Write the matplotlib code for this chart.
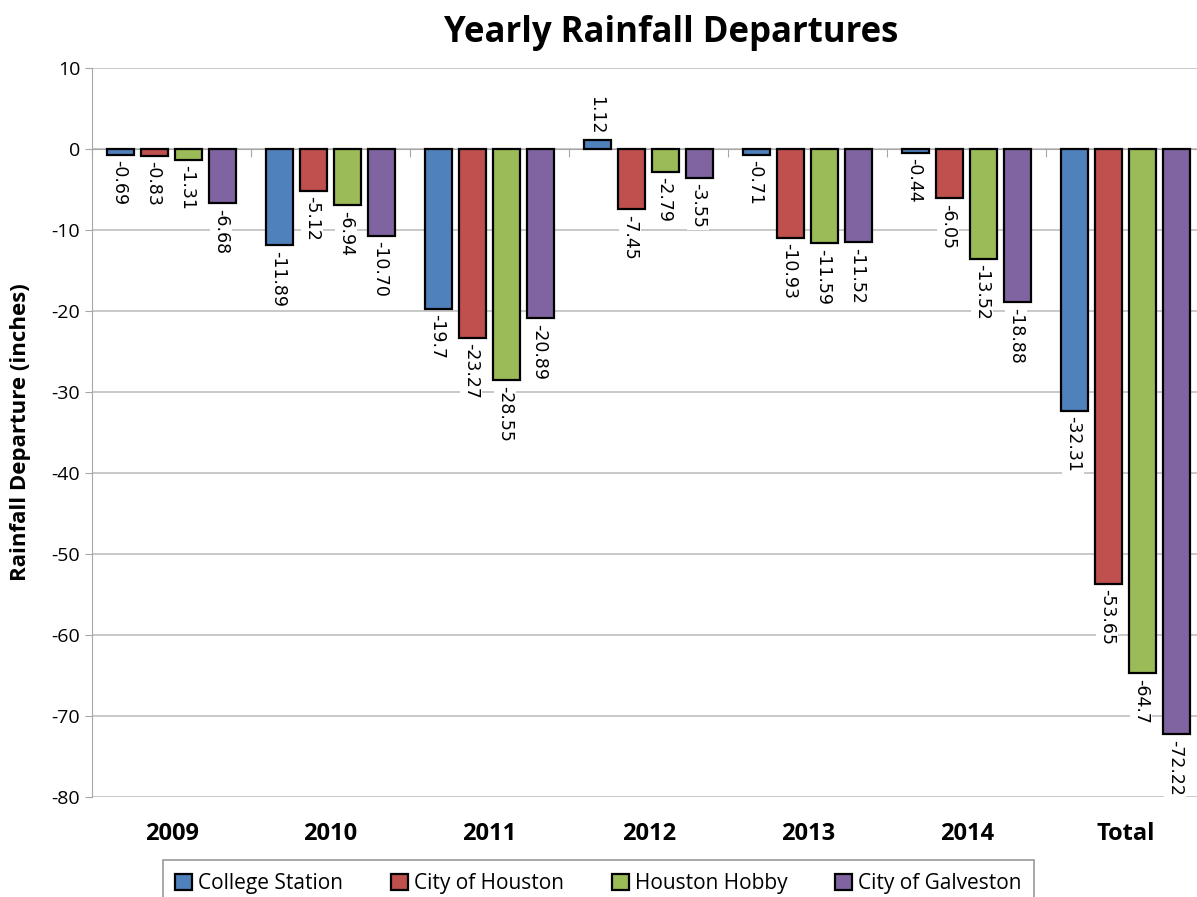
import numpy as np
import matplotlib
matplotlib.use("Agg")
import matplotlib.pyplot as plt
from matplotlib.transforms import blended_transform_factory

# data, kept as text so the labels read like the source ("-10.70", "-19.7")
categories = ["2009", "2010", "2011", "2012", "2013", "2014", "Total"]
college_station = ["-0.69", "-11.89", "-19.7", "1.12", "-0.71", "-0.44", "-32.31"]
city_of_houston = ["-0.83", "-5.12", "-23.27", "-7.45", "-10.93", "-6.05", "-53.65"]
houston_hobby = ["-1.31", "-6.94", "-28.55", "-2.79", "-11.59", "-13.52", "-64.7"]
city_of_galveston = ["-6.68", "-10.70", "-20.89", "-3.55", "-11.52", "-18.88", "-72.22"]

series_names = ["College Station", "City of Houston", "Houston Hobby", "City of Galveston"]
colors = ["#4F81BD", "#C0504D", "#9BBB59", "#8064A2"]

plt.rcParams['font.family'] = ['Open Sans', 'DejaVu Sans']
plt.rcParams['axes.unicode_minus'] = False

fig = plt.figure(figsize=(11.97, 8.97), dpi=100)
ax = fig.add_axes([0.0769, 0.1115, 0.93, 0.8125])

x = np.arange(len(categories))
width = 0.17
step = 0.214
all_series = [college_station, city_of_houston, houston_hobby, city_of_galveston]

for i, (name, vals, col) in enumerate(zip(series_names, all_series, colors)):
    nums = [float(v) for v in vals]
    pos = x + (i - 1.5) * step
    ax.bar(pos, nums, width, color=col, edgecolor="black", linewidth=1.6,
           label=name, zorder=3)
    for px, v, txt in zip(pos, nums, vals):
        below = v < 0
        ax.annotate(txt, (px, v), xytext=(-1, -4 if below else 4),
                    textcoords="offset points", rotation=-90, ha="center",
                    va="top" if below else "bottom", fontsize=12.5,
                    family="DejaVu Sans",
                    bbox=dict(facecolor="white", edgecolor="none", pad=1.5),
                    zorder=4)

ax.set_ylim(-80, 10)
ax.set_yticks(np.arange(-80, 11, 10))
ax.set_xlim(-0.5, len(categories) - 0.5)
ax.yaxis.grid(True, color="#BFBFBF", linewidth=1.2, zorder=0)
ax.set_axisbelow(True)

for s in ["top", "right"]:
    ax.spines[s].set_visible(False)
ax.spines["left"].set_color("#A6A6A6")
ax.spines["bottom"].set_position(("data", 0))
ax.spines["bottom"].set_color("#A6A6A6")
ax.set_xticks(np.arange(len(categories) + 1) - 0.5)
ax.set_xticklabels([])
ax.tick_params(axis="x", length=6, color="#A6A6A6", direction="out")
ax.tick_params(axis="y", length=5, color="#A6A6A6", labelsize=14)

trans = blended_transform_factory(ax.transData, ax.transAxes)
for xi, c in zip(x, categories):
    ax.text(xi, -0.034, c, transform=trans, ha="center", va="top",
            fontsize=17, fontweight="bold")

ax.set_ylabel("Rainfall Departure (inches)", fontsize=16, fontweight="bold")
ax.yaxis.set_label_coords(-0.055, 0.5)
fig.text(0.561, 0.963, "Yearly Rainfall Departures", ha="center", va="center",
         fontsize=25, fontweight="bold")

leg = fig.legend(loc="lower center", bbox_to_anchor=(0.5, -0.022), ncol=4,
                 frameon=True, fancybox=False, edgecolor="#808080",
                 handlelength=0.8, handleheight=0.8,
                 handletextpad=0.3, columnspacing=2.3, borderpad=0.6,
                 prop={"size": 15})
leg.get_frame().set_linewidth(1.2)

fig.savefig("out.png", dpi=100)
